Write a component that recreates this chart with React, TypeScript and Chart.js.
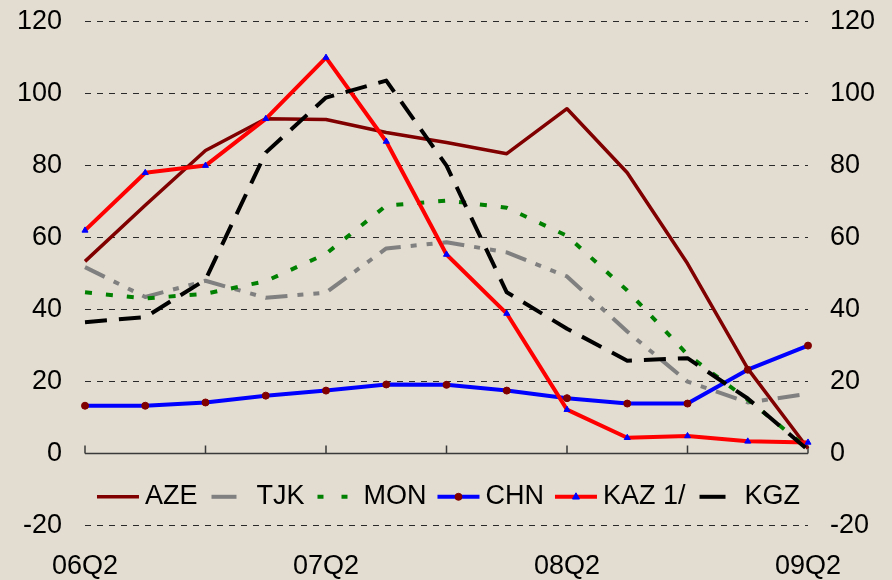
import { useEffect, useRef } from 'react';
import { Chart, registerables } from 'chart.js';

Chart.register(...registerables);

// Quarterly observations, 06Q2 through 09Q2
const quarters = ['06Q2', '06Q3', '06Q4', '07Q1', '07Q2', '07Q3', '07Q4', '08Q1', '08Q2', '08Q3', '08Q4', '09Q1', '09Q2'];
const aze = [53.4, 69, 84.2, 93, 92.8, 89.2, 86.4, 83.3, 95.8, 78, 52.8, 23.6, 1.4];
const tjk = [51.8, 43.5, 48, 43.3, 44.7, 57, 58.7, 55.9, 49.2, 33.9, 20, 14.2, 16.6];
const mon = [44.8, 43.1, 44.4, 47.9, 55.5, 68.9, 70.3, 68.3, 60.5, 45.3, 27.5, 15, 1.4];
const chn = [13.3, 13.3, 14.2, 16.1, 17.5, 19.2, 19.1, 17.5, 15.4, 13.9, 13.9, 23.3, 30];
const kaz = [62, 78, 80, 93, 110, 86.7, 55.3, 38.9, 12.2, 4.4, 4.9, 3.4, 3.1];
const kgz = [36.5, 37.9, 48.3, 83.6, 98.9, 103.6, 80, 44.8, 34.7, 25.8, 26.5, 15.3, 1];

const seriesLabels = ['AZE', 'TJK', 'MON', 'CHN', 'KAZ 1/', 'KGZ'];
const seriesData = [aze, tjk, mon, chn, kaz, kgz];

const Y_MIN = -20;
const Y_MAX = 120;
const Y_STEP = 20;
const LABEL_EVERY = 4; // one label per year
const TICK_EVERY = 2; // axis tick every half year
const LEGEND_LEVEL = -12;

const FONT_FAMILY = "'Liberation Sans', Arial, sans-serif";
const FONT_SIZE = 27;
const BG = '#e3ddd1';

type Style = {
  color: string;
  width: number;
  dash: number[];
  swatchDash: number[];
  swatchOffset: number;
  marker?: { shape: 'circle' | 'triangle'; color: string; radius: number };
  order: number;
};

const styles: Style[] = [
  { color: '#800000', width: 3.5, dash: [], swatchDash: [], swatchOffset: 0, order: 6 },
  { color: '#808080', width: 4, dash: [22, 10, 6, 10, 6, 10], swatchDash: [25, 100], swatchOffset: -3, order: 5 },
  { color: '#008000', width: 4, dash: [7, 14], swatchDash: [6, 18], swatchOffset: -2, order: 4 },
  { color: '#0000ff', width: 4, dash: [], swatchDash: [], swatchOffset: 0, marker: { shape: 'circle', color: '#800000', radius: 3.5 }, order: 3 },
  { color: '#ff0000', width: 4, dash: [], swatchDash: [], swatchOffset: 0, marker: { shape: 'triangle', color: '#0000ff', radius: 3.5 }, order: 2 },
  { color: '#000000', width: 4, dash: [22, 12], swatchDash: [26, 100], swatchOffset: -3, order: 1 },
];

const SWATCH = 42;
const SWATCH_GAP = 6;
const ITEM_GAP = 11;

function drawMarker(ctx: CanvasRenderingContext2D, m: NonNullable<Style['marker']>, x: number, y: number) {
  ctx.fillStyle = m.color;
  ctx.strokeStyle = m.color;
  ctx.lineWidth = 1;
  ctx.beginPath();
  if (m.shape === 'circle') {
    ctx.arc(x, y, m.radius, 0, Math.PI * 2);
  } else {
    const r = m.radius;
    const h = r * 1.5;
    ctx.moveTo(x, y - h * 2 / 3 - 0.5);
    ctx.lineTo(x + r, y + h / 3 + 0.5);
    ctx.lineTo(x - r, y + h / 3 + 0.5);
    ctx.closePath();
  }
  ctx.fill();
  ctx.stroke();
}

const backgroundPlugin = {
  id: 'paperBackground',
  beforeDraw(chart: any) {
    const { ctx, width, height } = chart;
    ctx.save();
    ctx.fillStyle = BG;
    ctx.fillRect(0, 0, width, height);
    ctx.restore();
  },
};

const zeroAxisPlugin = {
  id: 'zeroAxis',
  beforeDatasetsDraw(chart: any) {
    const { ctx, chartArea, scales } = chart;
    const y0 = scales.y.getPixelForValue(0);
    ctx.save();
    ctx.strokeStyle = '#3a3a3a';
    ctx.lineWidth = 1.5;
    ctx.beginPath();
    ctx.moveTo(chartArea.left, y0);
    ctx.lineTo(chartArea.right, y0);
    for (let i = 0; i < quarters.length; i += TICK_EVERY) {
      const x = scales.x.getPixelForValue(i);
      ctx.moveTo(x, y0);
      ctx.lineTo(x, y0 - 8);
    }
    ctx.stroke();
    ctx.restore();
  },
};

const legendPlugin = {
  id: 'inlineLegend',
  afterDatasetsDraw(chart: any) {
    const { ctx, chartArea, scales } = chart;
    const y = scales.y.getPixelForValue(LEGEND_LEVEL);
    ctx.save();
    ctx.font = `${FONT_SIZE}px ${FONT_FAMILY}`;
    const widths = seriesLabels.map((l) => ctx.measureText(l).width);
    const total = widths.reduce((a, w) => a + SWATCH + SWATCH_GAP + w, 0) + ITEM_GAP * (seriesLabels.length - 1);
    let x = (chartArea.left + chartArea.right) / 2 - total / 2 + 2;
    seriesLabels.forEach((label, i) => {
      const st = styles[i];
      ctx.strokeStyle = st.color;
      ctx.lineWidth = st.width;
      ctx.lineCap = 'butt';
      ctx.setLineDash(st.swatchDash);
      ctx.lineDashOffset = st.swatchOffset;
      ctx.beginPath();
      ctx.moveTo(x, y);
      ctx.lineTo(x + SWATCH, y);
      ctx.stroke();
      ctx.setLineDash([]);
      ctx.lineDashOffset = 0;
      if (st.marker) drawMarker(ctx, st.marker, x + SWATCH / 2, y);
      ctx.fillStyle = '#000';
      ctx.textAlign = 'left';
      ctx.textBaseline = 'middle';
      ctx.fillText(label, x + SWATCH + SWATCH_GAP, y);
      x += SWATCH + SWATCH_GAP + widths[i] + ITEM_GAP;
    });
    ctx.restore();
  },
};

// Keep the plot area fixed: no extra room reserved for edge labels
const noEdgePadding = (scale: any) => {
  scale.paddingTop = 0;
  scale.paddingBottom = 0;
  scale.paddingLeft = 0;
  scale.paddingRight = 0;
};

export default function App() {
  const canvasRef = useRef<HTMLCanvasElement | null>(null);

  useEffect(() => {
    const canvas = canvasRef.current;
    if (!canvas) return;

    const tickFont = { family: FONT_FAMILY, size: FONT_SIZE };

    const chart = new Chart(canvas, {
      type: 'line',
      data: {
        labels: quarters,
        datasets: seriesLabels.map((label, i) => {
          const st = styles[i];
          return {
            label,
            data: seriesData[i],
            borderColor: st.color,
            backgroundColor: st.color,
            borderWidth: st.width,
            borderDash: st.dash,
            borderCapStyle: 'butt' as const,
            borderJoinStyle: 'round' as const,
            tension: 0,
            fill: false,
            order: st.order,
            pointRadius: st.marker ? st.marker.radius : 0,
            pointStyle: st.marker ? st.marker.shape : 'circle',
            pointBackgroundColor: st.marker ? st.marker.color : st.color,
            pointBorderColor: st.marker ? st.marker.color : st.color,
            pointBorderWidth: 1,
          };
        }),
      },
      options: {
        responsive: false,
        animation: false,
        devicePixelRatio: 1,
        layout: { padding: { top: 21.6, left: 0, right: 0, bottom: 0 } },
        plugins: {
          legend: { display: false },
          tooltip: { enabled: false },
        },
        scales: {
          x: {
            type: 'category',
            offset: false,
            grid: { display: false, drawTicks: false },
            border: { display: false },
            ticks: {
              autoSkip: false,
              maxRotation: 0,
              padding: 25,
              color: '#000',
              font: tickFont,
              callback: (_v: any, i: number) => (i % LABEL_EVERY === 0 ? quarters[i] : ''),
            },
            afterFit: (scale: any) => {
              scale.height = 54.4;
              noEdgePadding(scale);
            },
          },
          y: {
            type: 'linear',
            position: 'left',
            min: Y_MIN,
            max: Y_MAX,
            ticks: { stepSize: Y_STEP, padding: 23, color: '#000', font: tickFont },
            grid: {
              drawTicks: false,
              lineWidth: 1,
              color: (c: any) => (c.tick && c.tick.value === 0 ? 'rgba(0,0,0,0)' : '#2a2a2a'),
            },
            border: { display: false, dash: [6, 6] },
            afterFit: (scale: any) => {
              scale.width = 85;
              noEdgePadding(scale);
            },
          },
          y2: {
            type: 'linear',
            position: 'right',
            min: Y_MIN,
            max: Y_MAX,
            ticks: { stepSize: Y_STEP, padding: 22, color: '#000', font: tickFont },
            grid: { display: false, drawTicks: false },
            border: { display: false },
            afterFit: (scale: any) => {
              scale.width = 84;
              noEdgePadding(scale);
            },
          },
        },
      },
      plugins: [backgroundPlugin, zeroAxisPlugin, legendPlugin],
    });

    return () => chart.destroy();
  }, []);

  return (
    <div style={{ position: 'fixed', left: 0, top: 0, width: 892, height: 580, background: BG }}>
      <canvas ref={canvasRef} width={892} height={580} style={{ display: 'block', width: 892, height: 580 }} />
    </div>
  );
}
